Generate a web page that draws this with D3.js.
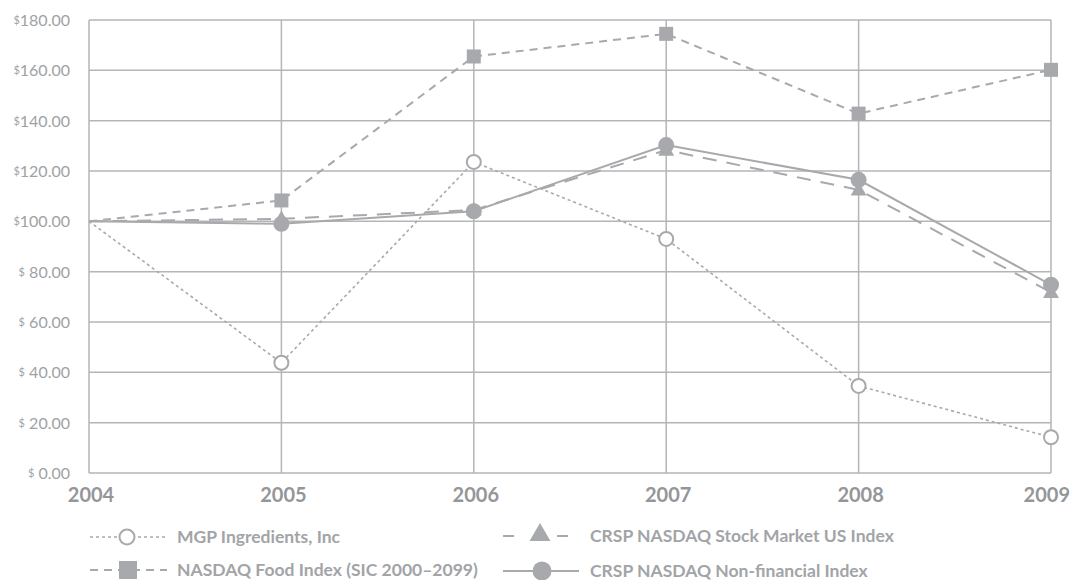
<!DOCTYPE html>
<html>
<head>
<meta charset="utf-8">
<script src="https://cdn.jsdelivr.net/npm/d3@7"></script>
<style>
  body { margin: 0; background: #fff; }
  svg { font-family: Lato, "Open Sans", sans-serif; }
</style>
</head>
<body>
<svg id="chart" width="1071" height="580"></svg>
<script>
// data
var years = [2004, 2005, 2006, 2007, 2008, 2009];
var mgp = [100, 43.8, 123.6, 93.0, 34.6, 14.2];
var foodIdx = [100, 108.3, 165.5, 174.5, 142.8, 160.2];
var stockIdx = [100, 101.0, 104.5, 128.3, 112.5, 71.8];
var nonFin = [100, 99.0, 104.0, 130.3, 116.5, 74.8];
var yTicks = [0, 20, 40, 60, 80, 100, 120, 140, 160, 180];

var grey = '#a7a9ac';
var margins = {top: 20, left: 89, right: 20, bottom: 107};
var width = 1071, height = 580;

var svg = d3.select('#chart');

var x = d3.scalePoint().domain(years).range([margins.left, width - margins.right]);
var y = d3.scaleLinear().domain([0, 180]).range([height - margins.bottom, margins.top]);

var g = svg.append('g');

// horizontal grid
g.selectAll('line.h').data(yTicks).enter().append('line')
  .attr('x1', x(2004)).attr('x2', x(2009))
  .attr('y1', function(d) { return y(d); }).attr('y2', function(d) { return y(d); })
  .attr('stroke', '#b5b5b7').attr('stroke-width', 1.5);

// vertical grid
g.selectAll('line.v').data(years).enter().append('line')
  .attr('x1', function(d) { return x(d); }).attr('x2', function(d) { return x(d); })
  .attr('y1', y(180)).attr('y2', y(0))
  .attr('stroke', '#b5b5b7').attr('stroke-width', 1.5);

// y labels
var yl = g.selectAll('text.ylab').data(yTicks).enter().append('text')
  .attr('x', 70).attr('y', function(d) { return y(d) + 6; })
  .attr('text-anchor', 'end').attr('fill', '#a0a2a5').style('font-size', '16px');
yl.append('tspan').style('font-size', '11px').attr('dy', '-2').text('$');
yl.append('tspan').attr('dy', '2').text(function(d) { return (d < 100 ? '\u00a0' : '') + d3.format('.2f')(d); });

// x labels
g.selectAll('text.xlab').data(years).enter().append('text')
  .attr('x', function(d, i) { return i === years.length - 1 ? width - 1 : x(d) + 2; }).attr('y', 502)
  .attr('text-anchor', function(d, i) { return i === years.length - 1 ? 'end' : 'middle'; })
  .attr('fill', '#949699')
  .style('font-size', '20px').style('font-weight', 'bold')
  .text(function(d) { return d; });

var series = [
  {name: 'MGP Ingredients, Inc', values: mgp, dash: '3,3', w: 1.6, marker: 'ocircle'},
  {name: 'NASDAQ Food Index (SIC 2000\u20132099)', values: foodIdx, dash: '8,6', w: 2, marker: 'square'},
  {name: 'CRSP NASDAQ Stock Market US Index', values: stockIdx, dash: '14,10', w: 2, marker: 'triangle'},
  {name: 'CRSP NASDAQ Non-financial Index', values: nonFin, dash: null, w: 2, marker: 'circle'}
];

var line = d3.line().x(function(d, i) { return x(years[i]); }).y(function(d) { return y(d); });

function drawMarker(sel, type, cx, cy) {
  if (type === 'ocircle') {
    sel.append('circle').attr('cx', cx).attr('cy', cy).attr('r', 7)
      .attr('fill', '#fff').attr('stroke', grey).attr('stroke-width', 2);
  } else if (type === 'square') {
    sel.append('rect').attr('x', cx - 7).attr('y', cy - 7).attr('width', 14).attr('height', 14).attr('fill', grey);
  } else if (type === 'triangle') {
    sel.append('path').attr('d', d3.symbol().type(d3.symbolTriangle).size(110)()).attr('transform', 'translate(' + cx + ',' + (cy + 1) + ')').attr('fill', grey);
  } else {
    sel.append('circle').attr('cx', cx).attr('cy', cy).attr('r', 8).attr('fill', grey);
  }
}

series.forEach(function(s) {
  g.append('path').datum(s.values).attr('d', line)
    .attr('fill', 'none').attr('stroke', grey).attr('stroke-width', s.w)
    .attr('stroke-dasharray', s.dash);
});
// markers drawn so hollow circles sit on top
[1, 2, 3, 0].forEach(function(k) {
  var s = series[k];
  s.values.forEach(function(v, i) {
    if (i === 0) return;
    drawMarker(g, s.marker, x(years[i]), y(v));
  });
});

// legend
var legendPos = [
  {x: 90, y: 537}, {x: 90, y: 570}, {x: 503, y: 536}, {x: 503, y: 571}
];
series.forEach(function(s, i) {
  var p = legendPos[i];
  var lg = svg.append('g');
  var len = (s.marker === 'triangle') ? 65 : (s.marker === 'circle' ? 76 : 77);
  lg.append('line').attr('x1', p.x).attr('x2', p.x + len).attr('y1', p.y).attr('y2', p.y)
    .attr('stroke', grey).attr('stroke-width', s.w)
    .attr('stroke-dasharray', s.marker === 'triangle' ? '11,43' : s.dash);
  if (s.marker === 'ocircle') {
    lg.append('circle').attr('cx', p.x + 37).attr('cy', p.y).attr('r', 7.5).attr('fill', '#fff').attr('stroke', grey).attr('stroke-width', 2);
  } else if (s.marker === 'square') {
    lg.append('rect').attr('x', p.x + 29).attr('y', p.y - 9).attr('width', 18).attr('height', 18).attr('fill', grey);
  } else if (s.marker === 'triangle') {
    lg.append('path').attr('d', d3.symbol().type(d3.symbolTriangle).size(190)()).attr('transform', 'translate(' + (p.x + 37) + ',' + (p.y - 1) + ')').attr('fill', grey);
  } else {
    lg.append('circle').attr('cx', p.x + 39).attr('cy', p.y).attr('r', 9.5).attr('fill', grey);
  }
  lg.append('text').attr('x', p.x + 87).attr('y', p.y + 6)
    .attr('fill', '#a2a4a7').style('font-size', '17.5px').style('font-weight', 'bold')
    .text(s.name);
});
</script>
</body>
</html>
